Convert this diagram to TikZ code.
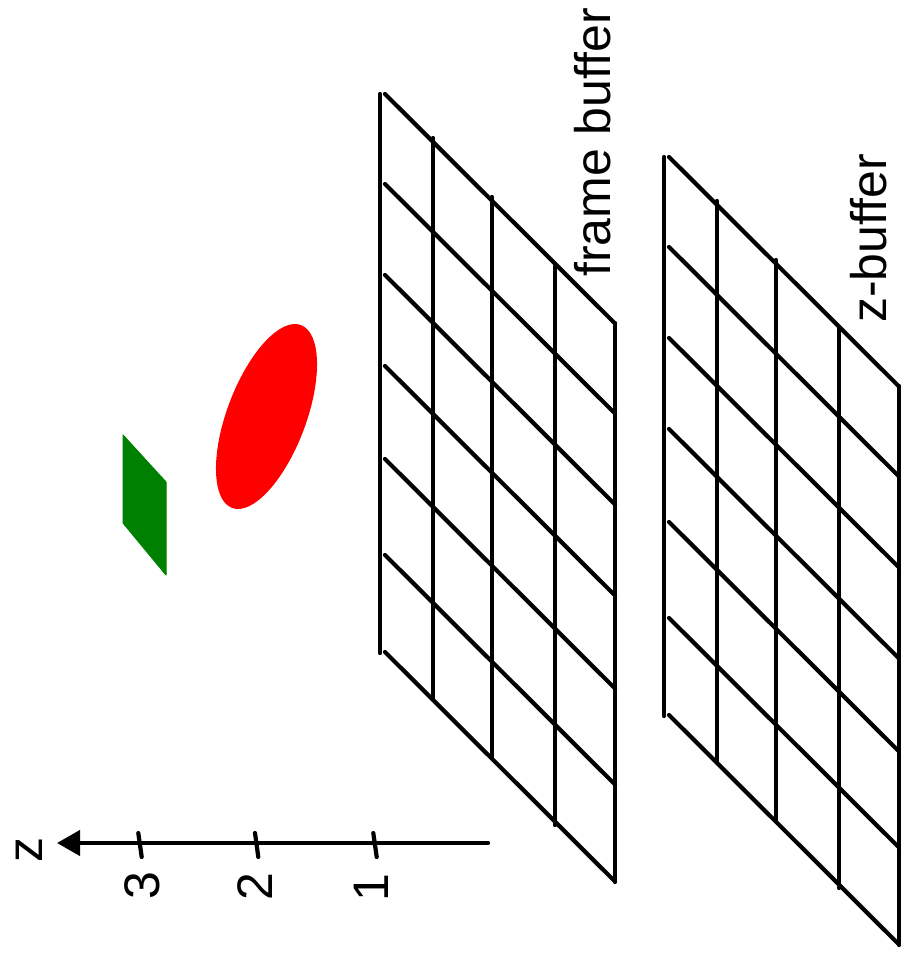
\documentclass[tikz,border=0pt]{standalone}
\usepackage{fontspec}
\setmainfont{Liberation Sans}
\usetikzlibrary{arrows.meta}
\definecolor{objgreen}{RGB}{0,128,0}
\definecolor{objred}{RGB}{255,0,0}
\begin{document}
\begin{tikzpicture}[x=1pt,y=-1pt,
  gridline/.style={line width=4.2pt, line cap=round, black},
  axisline/.style={line width=4.2pt, line cap=round, black},
  lbl/.style={rotate=90, inner sep=0pt, font=\fontsize{50}{60}\selectfont}]
\useasboundingbox (0,0) rectangle (900,961);
% two grids: frame buffer and z-buffer
\foreach \dx/\dy in {0/0, 284/63}{
  \begin{scope}[shift={(\dx,\dy)}]
    \foreach \L in {94,184,275,366,459,555,652}
      \draw[gridline] (385,\L) -- (615,\L+229.5);
    \foreach \xx/\a/\b in {380/94/653, 433/138/698, 492/197/757, 555/266/825, 615/323/882}
      \draw[gridline] (\xx,\a) -- (\xx,\b);
  \end{scope}
}
\node[lbl, anchor=base west] (fb) at (610,277) {frame buffer};
\node[lbl, anchor=base west] (zb) at (886,323) {z-buffer};
% objects
\fill[objgreen, draw=objgreen, line width=1pt, line join=round]
  (123,435) -- (166,482) -- (166,575) -- (123,523) -- cycle;
\fill[objred, rotate around={69.35:(266.5,416.5)}]
  (266.5,416.5) ellipse [x radius=97.7pt, y radius=39.5pt];
% z axis
\coordinate (axstart) at (488,843);
\coordinate (axend) at (57,843);
\draw[axisline, -{Triangle[length=23pt,width=25pt]}] (axstart) -- (axend);
\draw[axisline] (138.3,833) -- (141.7,857);
\draw[axisline] (255,833) -- (258.3,857);
\draw[axisline] (373.3,833) -- (376.7,857);
\node[lbl, anchor=base] (l3) at (159,886) {3};
\node[lbl, anchor=base] (l2) at (272,887) {2};
\node[lbl, anchor=base] (l1) at (388,888) {1};
\node[lbl, anchor=base] (lz) at (42,850) {z};
\end{tikzpicture}
\end{document}
